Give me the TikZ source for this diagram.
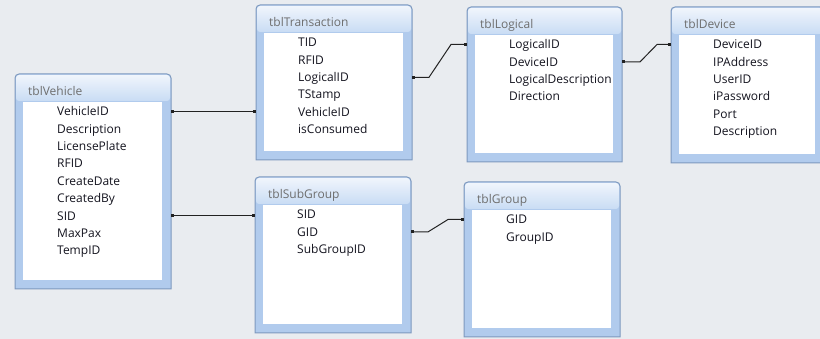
\documentclass[tikz,border=0pt]{standalone}
\usepackage{fontspec}
\setmainfont{Open Sans}
\usetikzlibrary{calc,arrows.meta}
\definecolor{bgc}{HTML}{E9ECF0}
\definecolor{framec}{HTML}{B1CBED}
\definecolor{edgec}{HTML}{7E99BE}
\definecolor{titletop}{HTML}{F0F5FC}
\definecolor{titlebot}{HTML}{C9DCF4}
\definecolor{titletext}{HTML}{6E6E6E}
\definecolor{fieldtext}{HTML}{14141F}
\definecolor{linkc}{HTML}{222222}
\tikzset{
  tblbox/.style={rectangle, inner sep=0pt, outer sep=0pt, anchor=north west},
  tblframe/.style={draw=edgec, line width=1pt, fill=framec},
  tbltitle/.style={anchor=base west, inner sep=0pt, font=\fontsize{12}{14}\selectfont, text=titletext},
  tblfield/.style={anchor=base west, inner sep=0pt, font=\fontsize{12}{14}\selectfont, text=fieldtext},
  relline/.style={draw=linkc, line width=1pt, {Square[length=2.6pt,width=3.2pt]}-{Square[length=2.6pt,width=3.2pt]}}
}
% #1 name, #2 title, #3 x, #4 y, #5 width, #6 height, #7 fields
\newcommand\dbtable[7]{%
  \node[tblbox, minimum width=#5pt, minimum height=#6pt] (#1) at (#3,#4) {};
  \path[tblframe] (#1.south west) [rounded corners=4pt] -- (#1.north west) -- (#1.north east) [sharp corners] -- (#1.south east) -- cycle;
  \path[top color=titletop, bottom color=titlebot, rounded corners=3pt]
    ($(#1.north west)+(1,1)$) rectangle ($(#1.north east)+(-1,27)$);
  \fill[white] ($(#1.north west)+(8,28)$) rectangle ($(#1.south east)+(-9,-9)$);
  \node[tbltitle] (#1-t) at ($(#1.north west)+(13,21.8)$) {#2};
  \foreach \f [count=\i, evaluate=\i as \yy using 37.5+(\i-1)*17.4] in {#7} {
    \coordinate (#1-r\i) at ($(#1.north west)+(0,\yy)$);
    \node[tblfield] (#1-f\i) at ($(#1.north west)+(42,\yy+4.3)$) {\f};
  }%
}
\begin{document}
\begin{tikzpicture}[x=1pt, y=-1pt]
\useasboundingbox (0,0) rectangle (820,339);
\clip (0,0) rectangle (820,339);
\fill[bgc] (0,0) rectangle (820,339);

\dbtable{veh}{tblVehicle}{15}{74}{156}{215}{VehicleID,Description,LicensePlate,RFID,CreateDate,CreatedBy,SID,MaxPax,TempID}
\dbtable{tra}{tblTransaction}{256}{5}{156}{155}{TID,RFID,LogicalID,TStamp,VehicleID,isConsumed}
\dbtable{log}{tblLogical}{467}{7}{155}{155}{LogicalID,DeviceID,LogicalDescription,Direction}
\dbtable{dev}{tblDevice}{671}{7}{153}{156}{DeviceID,IPAddress,UserID,iPassword,Port,Description}
\dbtable{sub}{tblSubGroup}{255}{177}{156}{156}{SID,GID,SubGroupID}
\dbtable{grp}{tblGroup}{464}{182}{156}{155}{GID,GroupID}

% relationships
\draw[relline] (veh.east |- veh-r1) -- (tra.west |- veh-r1);
\draw[relline] (veh.east |- veh-r7) -- (sub.west |- veh-r7);
\draw[relline] (tra.east |- tra-r3) -- ++(17,0) -- ($(log.west |- log-r1)+(-16,0)$) -- (log.west |- log-r1);
\draw[relline] (log.east |- log-r2) -- ++(18,0) -- ($(dev.west |- dev-r1)+(-14,0)$) -- (dev.west |- dev-r1);
\draw[relline] (sub.east |- sub-r2) -- ++(17,0) -- ($(grp.west |- grp-r1)+(-16,0)$) -- (grp.west |- grp-r1);
\end{tikzpicture}
\end{document}
